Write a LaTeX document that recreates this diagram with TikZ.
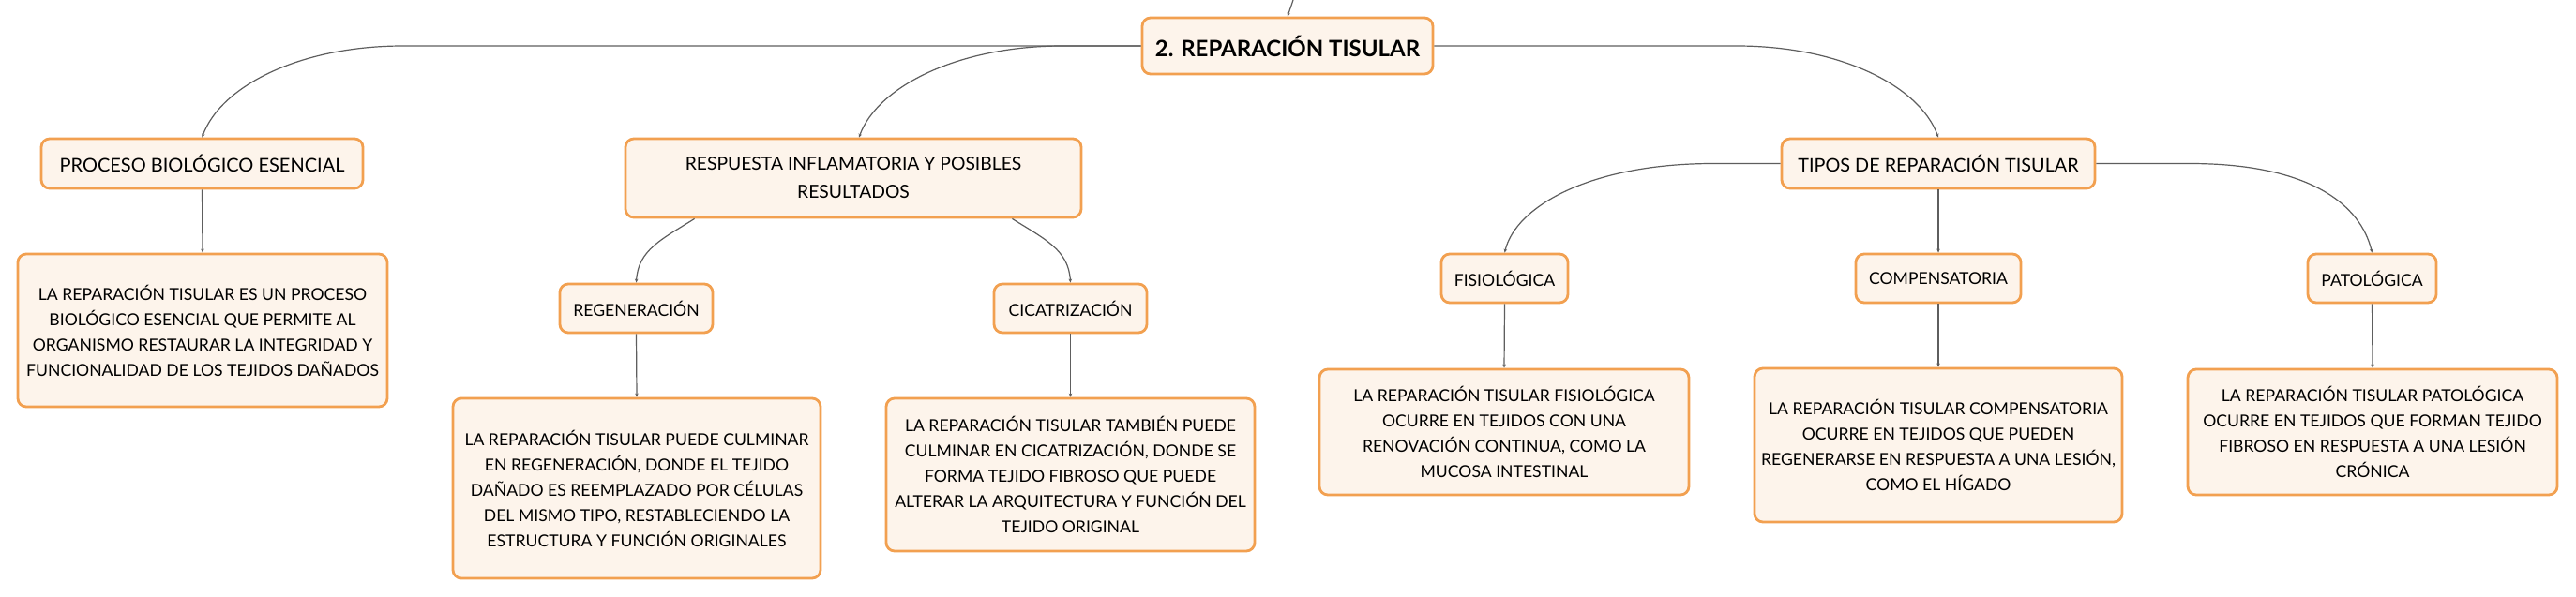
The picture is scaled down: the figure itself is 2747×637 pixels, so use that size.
\documentclass[tikz,border=0pt]{standalone}
\usepackage{fontspec}
\setmainfont{Lato}
\usetikzlibrary{arrows.meta}
\definecolor{bord}{HTML}{F2A050}
\definecolor{fillc}{HTML}{FDF4EB}
\definecolor{linec}{HTML}{5E5E5E}
\tikzset{
  box/.style={draw=bord, fill=fillc, line width=2.8pt, rounded corners=9pt, align=center,
    inner sep=0pt, text=black, font=\fontsize{20}{27}\selectfont},
  smallbox/.style={box, font=\fontsize{17.6}{27}\selectfont},
  textbox/.style={box, font=\fontsize{17.6}{27}\selectfont},
  conn/.style={draw=linec, line width=1.2pt, -{Stealth[length=4pt,width=3.5pt]}},
}
\begin{document}
\begin{tikzpicture}[x=1pt,y=-1pt]
\useasboundingbox[fill=white] (0,0) rectangle (2747,637);
% nodes
\node[box, minimum width=310pt, minimum height=60pt, font=\fontsize{24}{28}\selectfont\bfseries] (root) at (1373,49) {2. REPARACIÓN TISULAR};
\node[box, minimum width=343pt, minimum height=53pt] (proc) at (215.5,174.5) {PROCESO BIOLÓGICO ESENCIAL};
\node[textbox, minimum width=394pt, minimum height=163pt] (procT) at (216,352.5) {LA REPARACIÓN TISULAR ES UN PROCESO\\BIOLÓGICO ESENCIAL QUE PERMITE AL\\ORGANISMO RESTAURAR LA INTEGRIDAD Y\\FUNCIONALIDAD DE LOS TEJIDOS DAÑADOS};
\node[box, minimum width=486pt, minimum height=84pt, font=\fontsize{19.3}{30}\selectfont] (resp) at (910,190) {RESPUESTA INFLAMATORIA Y POSIBLES\\RESULTADOS};
\node[smallbox, minimum width=163pt, minimum height=52pt] (reg) at (678.5,329) {REGENERACIÓN};
\node[textbox, minimum width=392pt, minimum height=192pt] (regT) at (679,521) {LA REPARACIÓN TISULAR PUEDE CULMINAR\\EN REGENERACIÓN, DONDE EL TEJIDO\\DAÑADO ES REEMPLAZADO POR CÉLULAS\\DEL MISMO TIPO, RESTABLECIENDO LA\\ESTRUCTURA Y FUNCIÓN ORIGINALES};
\node[smallbox, minimum width=163pt, minimum height=52pt] (cic) at (1141.5,329) {CICATRIZACIÓN};
\node[textbox, minimum width=393pt, minimum height=163pt] (cicT) at (1141.5,506.5) {LA REPARACIÓN TISULAR TAMBIÉN PUEDE\\CULMINAR EN CICATRIZACIÓN, DONDE SE\\FORMA TEJIDO FIBROSO QUE PUEDE\\ALTERAR LA ARQUITECTURA Y FUNCIÓN DEL\\TEJIDO ORIGINAL};
\node[box, minimum width=334pt, minimum height=53pt, font=\fontsize{19.8}{27}\selectfont] (tipos) at (2067,174.5) {TIPOS DE REPARACIÓN TISULAR};
\node[smallbox, minimum width=135pt, minimum height=52pt] (fis) at (1604.5,297) {FISIOLÓGICA};
\node[textbox, minimum width=394pt, minimum height=134pt] (fisT) at (1604,461) {LA REPARACIÓN TISULAR FISIOLÓGICA\\OCURRE EN TEJIDOS CON UNA\\RENOVACIÓN CONTINUA, COMO LA\\MUCOSA INTESTINAL};
\node[smallbox, minimum width=176pt, minimum height=52pt] (comp) at (2067,297) {COMPENSATORIA};
\node[textbox, minimum width=392pt, minimum height=164pt] (compT) at (2067,475) {LA REPARACIÓN TISULAR COMPENSATORIA\\OCURRE EN TEJIDOS QUE PUEDEN\\REGENERARSE EN RESPUESTA A UNA LESIÓN,\\COMO EL HÍGADO};
\node[smallbox, minimum width=137pt, minimum height=52pt] (pat) at (2529.5,297) {PATOLÓGICA};
\node[textbox, minimum width=394pt, minimum height=134pt] (patT) at (2530,461) {LA REPARACIÓN TISULAR PATOLÓGICA\\OCURRE EN TEJIDOS QUE FORMAN TEJIDO\\FIBROSO EN RESPUESTA A UNA LESIÓN\\CRÓNICA};
% helper coordinates
\coordinate (top) at (1379,0);
\coordinate (b1) at (430,49);
\coordinate (b2) at (1133,49);
\coordinate (b3) at (1852,49);
\coordinate (b4) at (1827,174.5);
\coordinate (b5) at (2335,174.5);
% connectors
\draw[conn] (top) -- (root.north);
\draw[conn] (root.west) -- (b1) .. controls +(-110,0) and +(20,-55) .. (proc.north);
\draw[conn] (root.west) -- (b2) .. controls +(-110,0) and +(20,-55) .. ([xshift=6pt]resp.north);
\draw[conn] (root.east) -- (b3) .. controls +(110,0) and +(-20,-55) .. (tipos.north);
\draw[conn] (proc.south) -- (procT.north);
\draw[conn] ([xshift=75pt]resp.south west) .. controls +(-35,22) and +(2,-35) .. (reg.north);
\draw[conn] ([xshift=-75pt]resp.south east) .. controls +(35,22) and +(-2,-35) .. (cic.north);
\draw[conn] (reg.south) -- (regT.north);
\draw[conn] (cic.south) -- (cicT.north);
\draw[conn] (tipos.west) -- (b4) .. controls +(-130,0) and +(12,-50) .. (fis.north);
\draw[conn] (tipos.south) -- (comp.north);
\draw[conn] (comp.south) -- (compT.north);
\draw[conn] (tipos.east) -- (b5) .. controls +(130,0) and +(-12,-50) .. (pat.north);
\draw[conn] (fis.south) -- (fisT.north);
\draw[conn] (pat.south) -- (patT.north);
\end{tikzpicture}
\end{document}
